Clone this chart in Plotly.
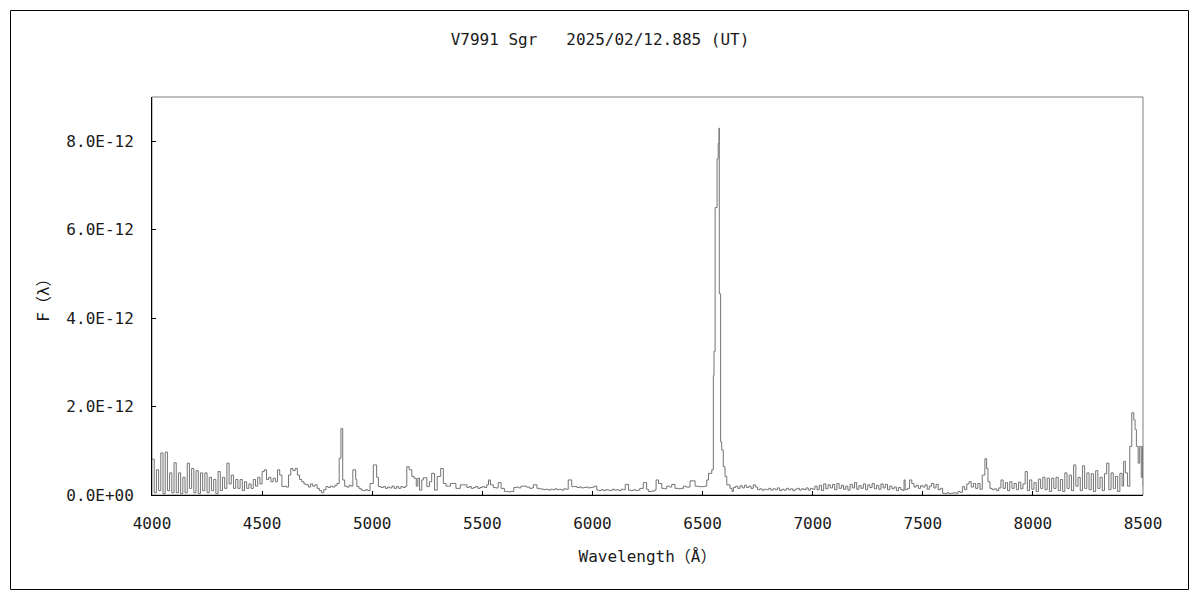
import plotly.graph_objects as go

# ---- spectrum data (wavelength in Angstrom, flux in units of 1e-13) ----
wl_a = [4000, 4010, 4020, 4030, 4040, 4050, 4060, 4070, 4080, 4090,
        4100, 4110, 4120, 4130, 4140, 4150, 4160, 4170, 4180, 4190,
        4200, 4210, 4220, 4230, 4240, 4250, 4260, 4270, 4280, 4290,
        4300, 4310, 4320, 4330, 4340, 4350, 4360, 4370, 4380, 4390,
        4400, 4410, 4420, 4430, 4440, 4450, 4460, 4470, 4480, 4490, 4500]
fx_a = [8.1, 0.5, 5.7, 1.0, 9.5, 0.3, 9.7, 1.0, 5.0, 0.5,
        7.3, 0.5, 5.0, 0.3, 4.0, 0.5, 7.2, 1.5, 6.0, 0.5,
        5.5, 0.3, 5.0, 1.0, 5.0, 0.5, 4.0, 1.0, 3.5, 0.3,
        5.3, 1.0, 4.0, 1.5, 7.2, 2.5, 4.5, 1.5, 3.5, 1.5,
        3.5, 1.0, 3.0, 1.5, 2.5, 1.5, 3.5, 2.0, 4.0, 2.5, 5.3]

wl_b = [4510, 4520, 4530, 4540, 4550, 4560, 4570, 4580, 4590, 4600,
        4610, 4620, 4630, 4640, 4650, 4660, 4670, 4680, 4690, 4700,
        4710, 4720, 4730, 4740, 4750, 4760, 4770, 4780, 4790, 4800,
        4810, 4820, 4830, 4840, 4850, 4858, 4866, 4875, 4885, 4895,
        4905, 4912, 4925, 4930, 4940, 4950, 4960, 4970, 4980, 4990,
        5005, 5020, 5028, 5040, 5050, 5060, 5070, 5080, 5090, 5100]
fx_b = [5.7, 3.5, 4.0, 3.0, 3.8, 3.0, 5.7, 4.5, 1.9, 2.0,
        1.8, 4.5, 6.0, 5.5, 6.0, 4.5, 3.5, 3.0, 2.5, 2.3,
        1.8, 2.5, 2.0, 2.3, 1.5, 1.0, 0.5, 1.2, 1.9, 1.7,
        2.0, 1.8, 2.2, 2.6, 8.3, 15.0, 3.4, 2.0, 1.8, 2.2,
        2.0, 5.7, 3.5, 1.9, 1.5, 1.1, 1.0, 1.2, 1.0, 2.6,
        6.8, 4.0, 1.9, 1.7, 1.9, 1.5, 1.8, 1.6, 2.0, 1.5]

wl_c = [5110, 5120, 5130, 5140, 5150, 5157, 5168, 5180, 5190, 5200,
        5207, 5215, 5225, 5232, 5248, 5260, 5270, 5283, 5295, 5311,
        5323, 5335, 5345, 5355, 5370, 5380, 5390, 5400, 5410, 5420,
        5430, 5440, 5450, 5460, 5470, 5480, 5490, 5500, 5510, 5520,
        5528, 5537, 5550, 5560, 5572, 5585, 5600, 5610, 5620, 5630,
        5643, 5655, 5665, 5675, 5690, 5700, 5715, 5725, 5732, 5748,
        5760, 5770, 5780, 5790, 5800, 5810, 5820, 5830, 5840, 5850,
        5860, 5870, 5880, 5890, 5906, 5920, 5930, 5940, 5950, 5960,
        5970, 5980, 5990, 6000, 6010, 6020, 6030, 6040, 6050, 6060,
        6070, 6080, 6090, 6100, 6110, 6120, 6130, 6140, 6149, 6164,
        6175, 6185, 6195, 6205, 6215, 6231, 6246, 6254, 6270, 6284,
        6289, 6300, 6315, 6327, 6337, 6350, 6360, 6375, 6390, 6400,
        6413, 6425, 6443, 6466, 6480, 6496, 6510, 6519, 6527, 6542]
fx_c = [1.9, 1.5, 1.9, 1.7, 2.0, 6.4, 5.7, 4.2, 3.8, 2.0,
        3.8, 1.1, 3.4, 3.9, 1.9, 3.0, 4.9, 1.1, 4.2, 6.0,
        2.6, 2.0, 2.0, 2.6, 2.6, 1.5, 1.5, 2.3, 2.3, 2.3,
        1.7, 1.9, 1.5, 1.7, 1.9, 1.5, 1.7, 1.9, 1.7, 2.3,
        3.4, 2.3, 1.7, 1.6, 2.8, 1.5, 0.8, 0.8, 0.7, 0.8,
        1.7, 1.8, 1.6, 2.0, 2.0, 1.8, 1.5, 1.6, 2.3, 1.5,
        1.4, 1.3, 1.2, 1.3, 1.1, 1.3, 1.2, 1.4, 1.2, 1.3,
        1.1, 1.4, 1.3, 3.4, 1.9, 1.9, 1.7, 1.8, 1.6, 1.7,
        1.8, 1.6, 1.7, 1.8, 2.0, 1.1, 1.0, 1.2, 1.0, 1.2,
        1.1, 1.0, 1.3, 1.1, 1.2, 1.0, 1.3, 1.2, 2.4, 1.1,
        1.0, 1.2, 1.0, 1.1, 1.5, 2.8, 1.3, 0.8, 0.9, 1.2,
        3.4, 2.6, 1.5, 1.4, 2.0, 1.8, 2.4, 1.5, 1.4, 1.5,
        2.0, 1.8, 3.2, 2.0, 1.9, 1.9, 2.0, 3.4, 4.9, 5.7]

# H-alpha emission line
wl_ha = [6549, 6552, 6557, 6566, 6571, 6575, 6576, 6582, 6587, 6594,
         6602, 6610, 6625, 6634, 6640]
fx_ha = [27.0, 32.5, 65.0, 76.0, 79.5, 83.0, 45.5, 12.0, 10.2, 6.4,
         4.2, 2.3, 1.5, 0.8, 1.7]

wl_d = [6650, 6660, 6670, 6680, 6690, 6700, 6710, 6720, 6730, 6740,
        6750, 6760, 6770, 6780, 6790, 6800, 6810, 6820, 6830, 6840,
        6850, 6860, 6870, 6880, 6890, 6900, 6910, 6920, 6930, 6940,
        6950, 6960, 6970, 6980, 6990, 7000, 7010, 7020, 7030, 7040,
        7050, 7060, 7070, 7080, 7090, 7100, 7110, 7120, 7130, 7140,
        7150, 7160, 7170, 7180, 7190, 7200, 7210, 7220, 7230, 7240,
        7250, 7260, 7270, 7280, 7290, 7300, 7310, 7320, 7330, 7340,
        7350, 7360, 7370, 7380, 7390, 7400]
fx_d = [2.0, 1.5, 2.1, 1.6, 2.2, 1.7, 2.0, 1.5, 2.3, 1.8,
        1.2, 1.4, 1.1, 1.3, 1.2, 1.5, 1.1, 1.4, 1.2, 1.6,
        1.0, 1.3, 1.1, 1.5, 1.2, 1.4, 1.0, 1.3, 1.5, 1.1,
        1.4, 1.2, 1.6, 1.1, 1.5, 1.3, 2.0, 1.2, 2.2, 1.0,
        2.5, 1.4, 2.3, 1.6, 2.4, 1.2, 2.6, 1.5, 2.2, 1.3,
        2.0, 1.1, 2.4, 1.6, 2.8, 1.3, 2.1, 1.5, 2.5, 1.2,
        2.3, 1.7, 2.6, 1.4, 2.2, 1.3, 2.5, 1.6, 2.4, 1.2,
        2.0, 1.4, 1.8, 1.0, 1.7, 1.2]

wl_e = [7410, 7415, 7420, 7430, 7440, 7450, 7460, 7470, 7480, 7490,
        7500, 7510, 7520, 7530, 7540, 7550, 7560, 7570, 7580, 7590,
        7600, 7610, 7620, 7630, 7640, 7650, 7660, 7670, 7680, 7690,
        7700, 7710, 7720, 7730, 7740, 7750, 7760, 7770, 7782, 7790,
        7796, 7805, 7815, 7825, 7835, 7845, 7855, 7865, 7875, 7885,
        7895, 7905, 7915, 7925, 7935, 7945, 7955, 7965, 7975, 7985,
        7995, 8005, 8015, 8025, 8035, 8045, 8055, 8065, 8075, 8085,
        8095, 8105, 8115, 8125, 8135, 8145, 8155, 8165, 8175, 8185,
        8195, 8205, 8215, 8225, 8235, 8245, 8255, 8265, 8275, 8285,
        8295, 8305, 8315, 8325, 8335, 8345, 8355, 8365, 8375, 8385,
        8395, 8405, 8412, 8420, 8430, 8440, 8449, 8458, 8464, 8470,
        8478, 8485, 8492, 8497, 8500]
fx_e = [1.0, 3.4, 1.2, 1.5, 3.4, 2.6, 1.8, 2.2, 1.5, 2.1,
        1.8, 2.3, 1.3, 2.0, 2.6, 1.6, 2.4, 1.2, 1.5, 0.4,
        0.3, 0.5, 0.3, 0.4, 0.5, 0.4, 0.8, 0.6, 1.9, 1.2,
        2.5, 3.0, 1.8, 2.6, 1.5, 2.6, 1.3, 4.5, 8.2, 6.0,
        3.0, 1.5, 1.2, 1.4, 1.0, 1.6, 3.4, 1.5, 2.8, 1.0,
        3.0, 1.5, 2.6, 1.2, 2.9, 1.4, 2.5, 5.3, 1.0, 3.4,
        1.3, 2.8, 0.8, 3.6, 1.5, 4.0, 1.2, 3.8, 0.8, 3.8,
        1.5, 4.0, 1.0, 3.5, 0.8, 5.0, 1.5, 4.5, 1.0, 6.8,
        2.0, 4.0, 1.0, 6.6, 1.5, 5.0, 1.2, 4.8, 0.8, 5.5,
        1.5, 4.0, 1.0, 4.8, 7.2, 1.2, 5.0, 1.5, 4.2, 0.8,
        4.9, 2.0, 7.6, 5.0, 2.0, 11.0, 18.6, 17.0, 14.8, 11.0,
        7.2, 11.0, 4.0, 11.0, 2.0]

x_ticks = [4000, 4500, 5000, 5500, 6000, 6500, 7000, 7500, 8000, 8500]
y_ticks = [0.0, 2.0e-12, 4.0e-12, 6.0e-12, 8.0e-12]
y_tick_text = ["0.0E+00", "2.0E-12", "4.0E-12", "6.0E-12", "8.0E-12"]

wavelength = wl_a + wl_b + wl_c + wl_ha + wl_d + wl_e
flux = [v * 1e-13 for v in (fx_a + fx_b + fx_c + fx_ha + fx_d + fx_e)]

FONT = "DejaVu Sans Mono, Noto Sans CJK JP, sans-serif"
TXT = "#1a1a1a"

fig = go.Figure()
fig.add_trace(go.Scatter(
    x=wavelength, y=flux, mode="lines",
    line=dict(color="#737373", width=1, shape="hv"),
    showlegend=False, hoverinfo="skip",
))

# the page body adds an 8px offset; size the figure so it fits the window
OFF = 8
W, H = 1200 - 2 * OFF, 600 - 2 * OFF
L, T = 152 - OFF, 97 - OFF
R = (1200 - OFF) - 1143
B = (600 - OFF) - 495
pw, ph = W - L - R, H - T - B

def px_x(px):
    return (px - OFF - L) / pw

def px_y(py):
    return (H - B - (py - OFF)) / ph

fig.update_layout(
    width=W, height=H,
    margin=dict(l=L, r=R, t=T, b=B, autoexpand=False),
    paper_bgcolor="white", plot_bgcolor="white",
    font=dict(family=FONT, size=16, color=TXT),
    title=dict(
        text="V7991 Sgr\u00a0\u00a0\u00a02025/02/12.885 (UT)",
        x=(600 - OFF) / W, xanchor="center", xref="container",
        y=1 - (39 - OFF) / H, yanchor="middle", yref="container",
        font=dict(family=FONT, size=16, color=TXT),
    ),
    xaxis=dict(
        range=[4000, 8500], tickvals=x_ticks,
        ticks="inside", ticklen=4, tickcolor="#000000", tickwidth=1,
        showline=True, linecolor="#000000", linewidth=1,
        showgrid=False, zeroline=False, ticklabelstandoff=14,
        title=dict(text="Wavelength（Å）", standoff=18,
                   font=dict(family=FONT, size=16, color=TXT)),
    ),
    yaxis=dict(
        range=[0, 9.0e-12], tickvals=y_ticks, ticktext=y_tick_text,
        ticks="inside", ticklen=4, tickcolor="#000000", tickwidth=1,
        showline=True, linecolor="#000000", linewidth=1,
        showgrid=False, zeroline=False, ticklabelstandoff=14,
        title=dict(text="F（λ）", standoff=12,
                   font=dict(family=FONT, size=16, color=TXT)),
    ),
    shapes=[
        dict(type="rect", xref="paper", yref="paper", x0=0, x1=1, y0=0, y1=1,
             line=dict(color="#808080", width=1), layer="below"),
        dict(type="rect", xref="paper", yref="paper",
             x0=px_x(10.5), x1=px_x(1188.5), y0=px_y(589.5), y1=px_y(10.5),
             line=dict(color="#000000", width=1)),
    ],
)

fig.write_html("out.html")
